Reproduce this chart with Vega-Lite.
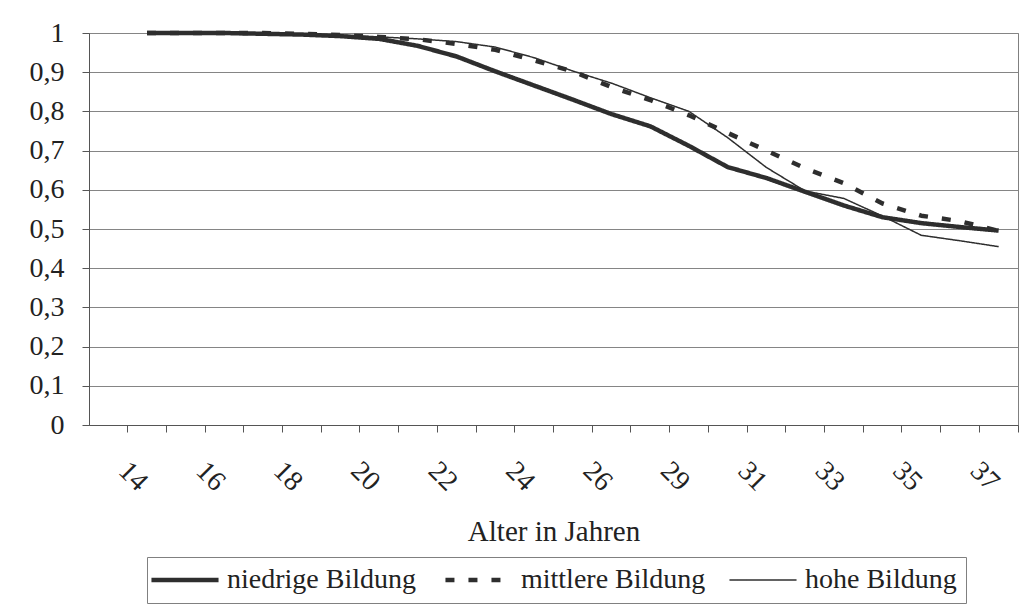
{
  "$schema": "https://vega.github.io/schema/vega-lite/v6.json",
  "autosize": {"type": "none"},
  "width": 929,
  "height": 392,
  "padding": {"left": 89, "top": 33, "right": 11, "bottom": 185},
  "background": "white",
  "config": {
    "font": "Liberation Serif, Times New Roman, Times, DejaVu Serif, serif",
    "view": {"stroke": "#808080", "strokeWidth": 1},
    "axis": {"labelFont": "Liberation Serif, Times New Roman, Times, DejaVu Serif, serif", "titleFont": "Liberation Serif, Times New Roman, Times, DejaVu Serif, serif", "labelColor": "#222222", "titleColor": "#222222", "domainColor": "#555555", "tickColor": "#555555"},
    "legend": {"labelFont": "Liberation Serif, Times New Roman, Times, DejaVu Serif, serif"}
  },
  "data": {
    "values": [
      {"Alter": "15", "Bildung": "niedrige Bildung", "Anteil": 1.0},
      {"Alter": "16", "Bildung": "niedrige Bildung", "Anteil": 1.0},
      {"Alter": "17", "Bildung": "niedrige Bildung", "Anteil": 1.0},
      {"Alter": "18", "Bildung": "niedrige Bildung", "Anteil": 0.998},
      {"Alter": "19", "Bildung": "niedrige Bildung", "Anteil": 0.996},
      {"Alter": "20", "Bildung": "niedrige Bildung", "Anteil": 0.992},
      {"Alter": "21", "Bildung": "niedrige Bildung", "Anteil": 0.985},
      {"Alter": "22", "Bildung": "niedrige Bildung", "Anteil": 0.967},
      {"Alter": "23", "Bildung": "niedrige Bildung", "Anteil": 0.94},
      {"Alter": "24", "Bildung": "niedrige Bildung", "Anteil": 0.902},
      {"Alter": "25", "Bildung": "niedrige Bildung", "Anteil": 0.866},
      {"Alter": "26", "Bildung": "niedrige Bildung", "Anteil": 0.83},
      {"Alter": "28", "Bildung": "niedrige Bildung", "Anteil": 0.793},
      {"Alter": "29", "Bildung": "niedrige Bildung", "Anteil": 0.762},
      {"Alter": "30", "Bildung": "niedrige Bildung", "Anteil": 0.712},
      {"Alter": "31", "Bildung": "niedrige Bildung", "Anteil": 0.658},
      {"Alter": "32", "Bildung": "niedrige Bildung", "Anteil": 0.63},
      {"Alter": "33", "Bildung": "niedrige Bildung", "Anteil": 0.595},
      {"Alter": "34", "Bildung": "niedrige Bildung", "Anteil": 0.56},
      {"Alter": "35", "Bildung": "niedrige Bildung", "Anteil": 0.53},
      {"Alter": "36", "Bildung": "niedrige Bildung", "Anteil": 0.515},
      {"Alter": "37", "Bildung": "niedrige Bildung", "Anteil": 0.505},
      {"Alter": "38", "Bildung": "niedrige Bildung", "Anteil": 0.496},
      {"Alter": "15", "Bildung": "mittlere Bildung", "Anteil": 1.0},
      {"Alter": "16", "Bildung": "mittlere Bildung", "Anteil": 1.0},
      {"Alter": "17", "Bildung": "mittlere Bildung", "Anteil": 1.0},
      {"Alter": "18", "Bildung": "mittlere Bildung", "Anteil": 1.0},
      {"Alter": "19", "Bildung": "mittlere Bildung", "Anteil": 0.998},
      {"Alter": "20", "Bildung": "mittlere Bildung", "Anteil": 0.995},
      {"Alter": "21", "Bildung": "mittlere Bildung", "Anteil": 0.99},
      {"Alter": "22", "Bildung": "mittlere Bildung", "Anteil": 0.984},
      {"Alter": "23", "Bildung": "mittlere Bildung", "Anteil": 0.972},
      {"Alter": "24", "Bildung": "mittlere Bildung", "Anteil": 0.957},
      {"Alter": "25", "Bildung": "mittlere Bildung", "Anteil": 0.93},
      {"Alter": "26", "Bildung": "mittlere Bildung", "Anteil": 0.902},
      {"Alter": "28", "Bildung": "mittlere Bildung", "Anteil": 0.862},
      {"Alter": "29", "Bildung": "mittlere Bildung", "Anteil": 0.829},
      {"Alter": "30", "Bildung": "mittlere Bildung", "Anteil": 0.79},
      {"Alter": "31", "Bildung": "mittlere Bildung", "Anteil": 0.745},
      {"Alter": "32", "Bildung": "mittlere Bildung", "Anteil": 0.7},
      {"Alter": "33", "Bildung": "mittlere Bildung", "Anteil": 0.655},
      {"Alter": "34", "Bildung": "mittlere Bildung", "Anteil": 0.617},
      {"Alter": "35", "Bildung": "mittlere Bildung", "Anteil": 0.565},
      {"Alter": "36", "Bildung": "mittlere Bildung", "Anteil": 0.534},
      {"Alter": "37", "Bildung": "mittlere Bildung", "Anteil": 0.52},
      {"Alter": "38", "Bildung": "mittlere Bildung", "Anteil": 0.495},
      {"Alter": "15", "Bildung": "hohe Bildung", "Anteil": 1.0},
      {"Alter": "16", "Bildung": "hohe Bildung", "Anteil": 1.0},
      {"Alter": "17", "Bildung": "hohe Bildung", "Anteil": 1.0},
      {"Alter": "18", "Bildung": "hohe Bildung", "Anteil": 1.0},
      {"Alter": "19", "Bildung": "hohe Bildung", "Anteil": 0.997},
      {"Alter": "20", "Bildung": "hohe Bildung", "Anteil": 0.995},
      {"Alter": "21", "Bildung": "hohe Bildung", "Anteil": 0.99},
      {"Alter": "22", "Bildung": "hohe Bildung", "Anteil": 0.985},
      {"Alter": "23", "Bildung": "hohe Bildung", "Anteil": 0.978},
      {"Alter": "24", "Bildung": "hohe Bildung", "Anteil": 0.964},
      {"Alter": "25", "Bildung": "hohe Bildung", "Anteil": 0.937},
      {"Alter": "26", "Bildung": "hohe Bildung", "Anteil": 0.903},
      {"Alter": "28", "Bildung": "hohe Bildung", "Anteil": 0.872},
      {"Alter": "29", "Bildung": "hohe Bildung", "Anteil": 0.835},
      {"Alter": "30", "Bildung": "hohe Bildung", "Anteil": 0.8},
      {"Alter": "31", "Bildung": "hohe Bildung", "Anteil": 0.733},
      {"Alter": "32", "Bildung": "hohe Bildung", "Anteil": 0.657},
      {"Alter": "33", "Bildung": "hohe Bildung", "Anteil": 0.597},
      {"Alter": "34", "Bildung": "hohe Bildung", "Anteil": 0.578},
      {"Alter": "35", "Bildung": "hohe Bildung", "Anteil": 0.533},
      {"Alter": "36", "Bildung": "hohe Bildung", "Anteil": 0.484},
      {"Alter": "37", "Bildung": "hohe Bildung", "Anteil": 0.47},
      {"Alter": "38", "Bildung": "hohe Bildung", "Anteil": 0.455}
    ]
  },
  "mark": {"type": "line", "strokeJoin": "round"},
  "encoding": {
    "x": {
      "field": "Alter",
      "type": "ordinal",
      "scale": {
        "type": "band",
        "domain": ["14","15","16","17","18","19","20","21","22","23","24","25","26","28","29","30","31","32","33","34","35","36","37","38"],
        "paddingInner": 0,
        "paddingOuter": 0
      },
      "axis": {
        "title": "Alter in Jahren",
        "titleFontSize": 29,
        "titleFontWeight": "normal",
        "titleBaseline": "alphabetic",
        "titleY": 115,
        "bandPosition": 1,
        "tickSize": 7,
        "labelPadding": 40,
        "labelAngle": 45,
        "labelAlign": "left",
        "labelBaseline": "alphabetic",
        "labelOffset": 9,
        "labelFontSize": 28,
        "labelOverlap": false,
        "labelExpr": "indexof(['14','16','18','20','22','24','26','29','31','33','35','37'], datum.label) >= 0 ? datum.label : ''",
        "grid": false
      }
    },
    "y": {
      "field": "Anteil",
      "type": "quantitative",
      "scale": {"domain": [0, 1], "nice": false},
      "axis": {
        "title": null,
        "values": [0, 0.1, 0.2, 0.3, 0.4, 0.5, 0.6, 0.7, 0.8, 0.9, 1],
        "labelExpr": "replace(format(datum.value, '.1~f'), '.', ',')",
        "labelFontSize": 28,
        "labelPadding": 18,
        "tickSize": 7,
        "grid": true,
        "gridColor": "#858585",
        "gridWidth": 1
      }
    },
    "color": {
      "field": "Bildung",
      "type": "nominal",
      "scale": {
        "domain": ["niedrige Bildung", "mittlere Bildung", "hohe Bildung"],
        "range": ["#2e2e2e", "#2e2e2e", "#2e2e2e"]
      },
      "legend": {
        "title": null,
        "orient": "none",
        "legendX": 58,
        "legendY": 524,
        "direction": "horizontal",
        "symbolType": "stroke",
        "symbolSize": 4500,
        "symbolOffset": 15,
        "labelFontSize": 28,
        "labelColor": "#222222",
        "labelLimit": 400,
        "labelOffset": 28,
        "columnPadding": 20,
        "padding": 9,
        "strokeColor": "#808080",
        "fillColor": "white",
        "encode": {
          "symbols": {
            "update": {
              "strokeWidth": {"signal": "datum.value === 'hohe Bildung' ? 1.5 : 4.5"}
            }
          }
        }
      }
    },
    "strokeDash": {
      "field": "Bildung",
      "type": "nominal",
      "scale": {
        "domain": ["niedrige Bildung", "mittlere Bildung", "hohe Bildung"],
        "range": [[1, 0], [9, 14], [1, 0]]
      },
      "legend": {
        "title": null,
        "orient": "none",
        "legendX": 58,
        "legendY": 524,
        "direction": "horizontal",
        "symbolType": "stroke",
        "symbolSize": 4500,
        "symbolOffset": 15,
        "labelFontSize": 28,
        "labelColor": "#222222",
        "labelLimit": 400,
        "labelOffset": 28,
        "columnPadding": 20,
        "padding": 9,
        "strokeColor": "#808080",
        "fillColor": "white"
      }
    },
    "strokeWidth": {
      "condition": {"test": "datum.Bildung === 'hohe Bildung'", "value": 1.5},
      "value": 4.5
    }
  }
}
